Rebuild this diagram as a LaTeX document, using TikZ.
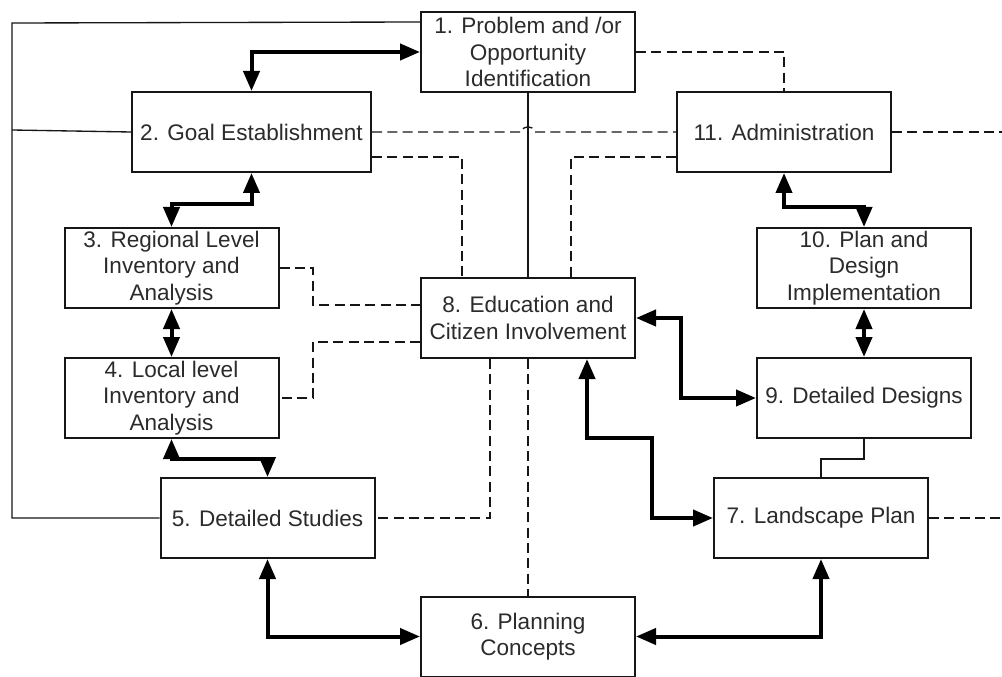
\documentclass[tikz,border=0pt]{standalone}
\usepackage{fontspec}
\setmainfont{Liberation Sans}
\usetikzlibrary{arrows.meta,calc}
\definecolor{txt}{HTML}{2B2B2B}
\definecolor{ln}{HTML}{161616}
\begin{document}
\begin{tikzpicture}[x=0.75pt,y=-0.75pt,
  box/.style={draw=ln,line width=1.5pt,minimum width=160.5pt,minimum height=60pt,inner sep=0pt,
    align=center,text=txt,font=\fontsize{16.9}{19.9}\selectfont},
  thin/.style={draw=ln,line width=1pt},
  dsh/.style={draw=ln,line width=1pt,dash pattern=on 7.5pt off 4pt},
  tk/.style={draw=black,line width=3pt,{Triangle[length=15pt,width=12pt]}-{Triangle[length=15pt,width=12pt]}}]
\useasboundingbox[fill=white] (0,0) rectangle (1002,677);
\node[box] (b1) at (528,52) {1. Problem and /or\\Opportunity\\Identification};
\node[box,minimum width=179.25pt] (b2) at (251.5,132) {2. Goal Establishment};
\node[box] (b11) at (784,132) {11. Administration};
\node[box] (b3) at (171.5,268) {3. Regional Level\\Inventory and\\Analysis};
\node[box] (b4) at (171.5,398) {4. Local level\\Inventory and\\Analysis};
\node[box] (b8) at (528,318) {8. Education and\\Citizen Involvement};
\node[box] (b10) at (864,268) {10. Plan and\\Design\\Implementation};
\node[box] (b9) at (864,398) {9. Detailed Designs};
\node[box] (b5) at (267.5,518) {5. Detailed Studies};
\node[box] (b7) at (821,518) {7. Landscape Plan};
\node[box] (b6) at (528,636.5) {6. Planning\\Concepts};
\coordinate (lt) at (12,23);
\coordinate (lm) at (12,130);
\coordinate (lb) at (12,518);
\coordinate (r1) at (1002,132);
\coordinate (r2) at (1002,518);
% thin solid
\draw[thin] ($(b1.north west)+(0,11)$) -- (lt) -- (lb) -- (b5.west);
\draw[thin] (lm) -- (b2.west);
\draw[thin] (b1.south) -- (b8.north);
\draw[thin] (b9.south) -- ++(0,20) -| (b7.north);
% dashed
\draw[dsh] (b1.east) -| (b11.north);
\draw[dsh] (b2.east) -- (522,132) .. controls (522,125) and (534,125) .. (534,132) -- (b11.west);
\draw[dsh] (b11.east) -- (r1);
\draw[dsh] ($(b2.south east)+(0,-16)$) -| ($(b8.north)+(-66,0)$);
\draw[dsh] ($(b11.south west)+(0,-16)$) -| ($(b8.north)+(43,0)$);
\draw[dsh] (b3.east) -- (313,268) |- ($(b8.west)+(0,-13)$);
\draw[dsh] ($(b8.west)+(0,24)$) -- (313,342) |- (b4.east);
\draw[dsh] ($(b8.south)+(-38,0)$) |- (b5.east);
\draw[dsh] (b8.south) -- (b6.north);
\draw[dsh] (b7.east) -- (r2);
% thick double arrows
\draw[tk] (b2.north) |- (b1.west);
\draw[tk] (b2.south) -- ++(0,31) -| (b3.north);
\draw[tk] (b3.south) -- (b4.north);
\draw[tk] (b4.south) -- ++(0,20) -| (b5.north);
\draw[tk] (b5.south) |- (b6.west);
\draw[tk] (b6.east) -| (b7.south);
\draw[tk] (b8.east) -- ++(45,0) |- (b9.west);
\draw[tk] (b7.west) -| (652,438) -| ($(b8.south)+(59,0)$);
\draw[tk] (b9.north) -- (b10.south);
\draw[tk] (b10.north) -- ++(0,-20) -| (b11.south);
\end{tikzpicture}
\end{document}
